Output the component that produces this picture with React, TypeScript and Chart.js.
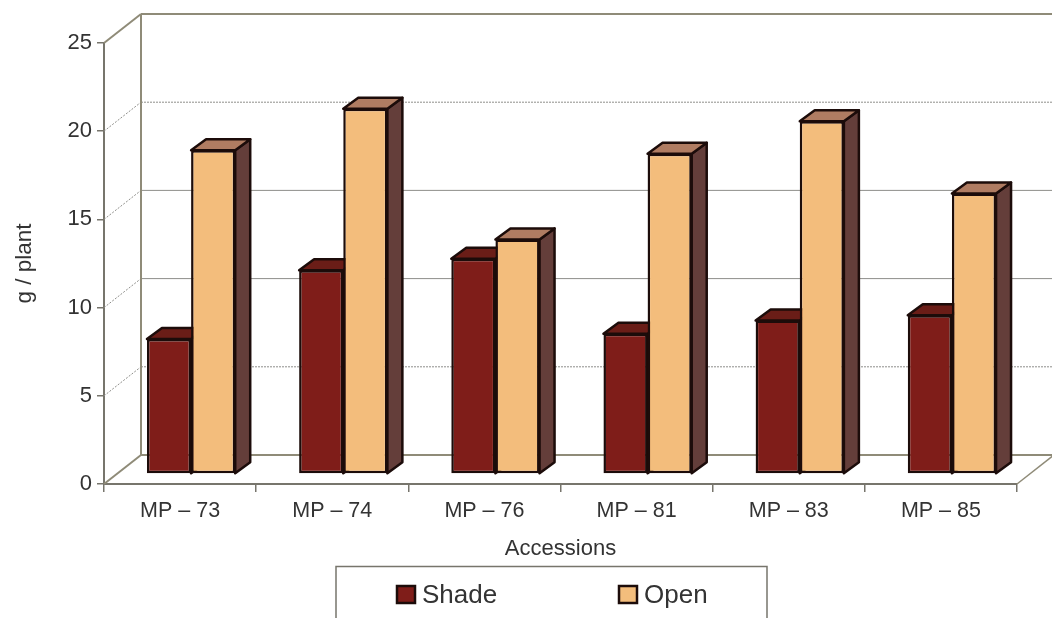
import React, { useEffect, useRef } from "react";
import { Chart, registerables } from "chart.js";

Chart.register(...registerables);

const accessions = ["MP – 73", "MP – 74", "MP – 76", "MP – 81", "MP – 83", "MP – 85"];
const shadeValues = [7.65, 11.55, 12.2, 7.95, 8.7, 9.0];
const openValues = [18.35, 20.7, 13.3, 18.15, 20.0, 15.9];
// Wall gridlines that print as dots; the others are continuous.
const dottedWallValues = [20, 5];

const FONT = "'Liberation Sans', Arial, sans-serif";
const TEXT = "#333333";
const AXIS = "#77756c";
const WALL = "#8f8b78";
const GRID = "#8e8e8a";
const OUTLINE = "#1c0c0a";

// Perspective offsets: the back wall, and the plane the bars stand on.
const WALL_DX = 37;
const WALL_DY = -29;
const BAR_DX = 11;
const BAR_DY = -10;
const DEPTH_DX = 15;
const DEPTH_DY = -11;

const FACE_SHADES = [
  { front: "#7f1d19", top: "#6a1d17", side: "#5a3532" },
  { front: "#f3bd7c", top: "#b07c62", side: "#643e3a" },
];

const line = (ctx: CanvasRenderingContext2D, x1: number, y1: number, x2: number, y2: number) => {
  ctx.beginPath();
  ctx.moveTo(x1, y1);
  ctx.lineTo(x2, y2);
  ctx.stroke();
};

const polygon = (ctx: CanvasRenderingContext2D, pts: number[][], fill: string) => {
  ctx.beginPath();
  pts.forEach(([x, y], i) => (i ? ctx.lineTo(x, y) : ctx.moveTo(x, y)));
  ctx.closePath();
  ctx.fillStyle = fill;
  ctx.fill();
  ctx.stroke();
};

const wallsPlugin = {
  id: "walls",
  beforeDatasetsDraw(chart: any) {
    const { ctx, chartArea, scales } = chart;
    const { left, right } = chartArea;
    const y = scales.y;
    ctx.save();
    // Back wall, floor and receding gridlines.
    y.ticks.forEach((t: any) => {
      const py = y.getPixelForValue(t.value);
      const edge = t.value === 0 || t.value === 25;
      ctx.strokeStyle = edge ? WALL : GRID;
      ctx.lineWidth = edge ? 2 : 1;
      ctx.setLineDash(edge ? [] : [2, 1.5]);
      line(ctx, left, py, left + WALL_DX, py + WALL_DY);
      ctx.setLineDash(dottedWallValues.includes(t.value) ? [2, 1] : []);
      line(ctx, left + WALL_DX, py + WALL_DY, right + WALL_DX, py + WALL_DY);
      ctx.setLineDash([]);
    });
    ctx.strokeStyle = WALL;
    ctx.lineWidth = 2;
    const backTop = y.getPixelForValue(25) + WALL_DY;
    const backBottom = y.getPixelForValue(0) + WALL_DY;
    line(ctx, left + WALL_DX, backTop, left + WALL_DX, backBottom);
    ctx.lineWidth = 1.5;
    line(ctx, right, y.getPixelForValue(0), right + WALL_DX, backBottom);

    // Tops and sides of every bar, Shade first so Open's faces cover it.
    ctx.translate(BAR_DX, BAR_DY);
    ctx.strokeStyle = OUTLINE;
    ctx.lineWidth = 2.5;
    ctx.lineJoin = "round";
    [0, 1].forEach((index) => {
      const colours = FACE_SHADES[index];
      chart.getDatasetMeta(index).data.forEach((bar: any) => {
        const { x, y: top, base, width } = bar.getProps(["x", "y", "base", "width"], true);
        const l = x - width / 2;
        const r = x + width / 2;
        polygon(
          ctx,
          [[r, top], [r + DEPTH_DX, top + DEPTH_DY], [r + DEPTH_DX, base + DEPTH_DY], [r, base]],
          colours.side
        );
        polygon(
          ctx,
          [[l, top], [l + DEPTH_DX, top + DEPTH_DY], [r + DEPTH_DX, top + DEPTH_DY], [r, top]],
          colours.top
        );
      });
    });
    ctx.restore();
  },
  // Front faces stand on the same receded plane as the tops and sides.
  beforeDatasetDraw(chart: any) {
    chart.ctx.save();
    chart.ctx.translate(BAR_DX, BAR_DY);
  },
  afterDatasetDraw(chart: any) {
    chart.ctx.restore();
  },
  afterDraw(chart: any) {
    const { ctx, data } = chart;
    ctx.save();
    ctx.strokeStyle = AXIS;
    ctx.lineWidth = 1.5;
    ctx.beginPath();
    ctx.moveTo(336, 622);
    ctx.lineTo(336, 566.5);
    ctx.lineTo(767, 566.5);
    ctx.lineTo(767, 622);
    ctx.stroke();
    ctx.font = `26px ${FONT}`;
    ctx.textBaseline = "middle";
    const swatchX = [397, 619];
    data.datasets.forEach((ds: any, i: number) => {
      ctx.fillStyle = ds.backgroundColor;
      ctx.strokeStyle = OUTLINE;
      ctx.lineWidth = 2.5;
      ctx.fillRect(swatchX[i], 586, 18, 17);
      ctx.strokeRect(swatchX[i], 586, 18, 17);
      ctx.fillStyle = TEXT;
      ctx.fillText(ds.label, swatchX[i] + 25, 596);
    });
    ctx.restore();
  },
};

export default function App() {
  const ref = useRef<HTMLCanvasElement>(null);
  useEffect(() => {
    const chart = new Chart(ref.current as HTMLCanvasElement, {
      type: "bar",
      data: {
        labels: accessions,
        datasets: [
          {
            label: "Shade",
            data: shadeValues,
            backgroundColor: FACE_SHADES[0].front,
            borderColor: OUTLINE,
            borderWidth: 2.5,
            borderSkipped: false,
          },
          {
            label: "Open",
            data: openValues,
            backgroundColor: FACE_SHADES[1].front,
            borderColor: OUTLINE,
            borderWidth: 2.5,
            borderSkipped: false,
          },
        ],
      },
      options: {
        responsive: false,
        animation: false,
        categoryPercentage: 0.58,
        barPercentage: 1,
        layout: { padding: { top: 43, right: 35, left: 0, bottom: 0 } },
        plugins: { legend: { display: false }, tooltip: { enabled: false } },
        scales: {
          x: {
            grid: { drawOnChartArea: false, color: AXIS, tickLength: 8, lineWidth: 1.5 },
            border: { color: AXIS, width: 2 },
            ticks: { color: TEXT, font: { family: FONT, size: 21.5 }, maxRotation: 0, padding: 6 },
            title: {
              display: true,
              text: "Accessions",
              color: TEXT,
              font: { family: FONT, size: 22 },
              padding: { top: 0, bottom: 56 },
            },
            afterFit: (s: any) => {
              s.height = 134;
            },
          },
          y: {
            min: 0,
            max: 25,
            ticks: { stepSize: 5, color: TEXT, font: { family: FONT, size: 22 }, padding: 5 },
            grid: { drawOnChartArea: false, color: AXIS, tickLength: 7, lineWidth: 1.5 },
            border: { color: AXIS, width: 2 },
            title: {
              display: true,
              text: "g / plant",
              color: TEXT,
              font: { family: FONT, size: 22.5 },
              padding: { top: 11, bottom: 0 },
            },
            afterFit: (s: any) => {
              s.width = 104;
            },
          },
        },
      },
      plugins: [wallsPlugin],
    } as any);
    return () => chart.destroy();
  }, []);
  return (
    <canvas
      ref={ref}
      width={1052}
      height={618}
      style={{ position: "absolute", left: 0, top: 0, display: "block" }}
    />
  );
}
